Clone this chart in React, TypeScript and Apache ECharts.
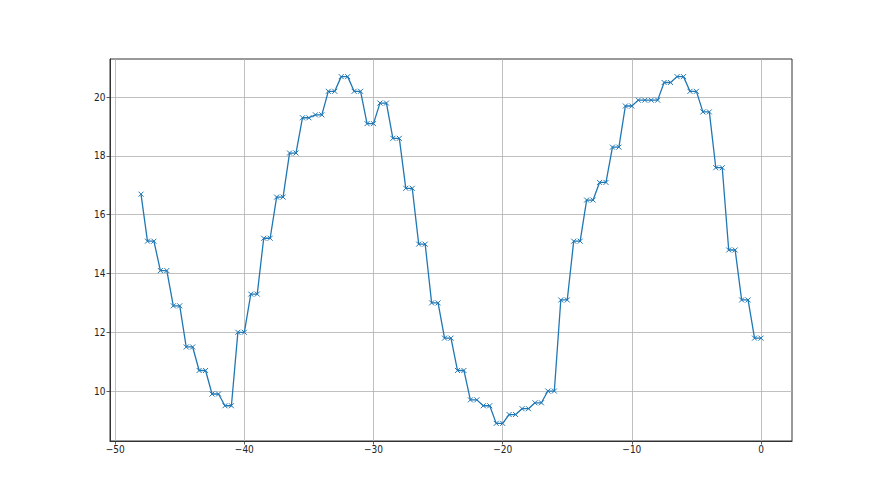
import React, { useEffect, useRef } from "react";
import * as echarts from "echarts";

const xValues = [
  -48, -47.5, -47, -46.5, -46, -45.5, -45, -44.5, -44, -43.5, -43, -42.5, -42,
  -41.5, -41, -40.5, -40, -39.5, -39, -38.5, -38, -37.5, -37, -36.5, -36,
  -35.5, -35, -34.5, -34, -33.5, -33, -32.5, -32, -31.5, -31, -30.5, -30,
  -29.5, -29, -28.5, -28, -27.5, -27, -26.5, -26, -25.5, -25, -24.5, -24,
  -23.5, -23, -22.5, -22, -21.5, -21, -20.5, -20, -19.5, -19, -18.5, -18,
  -17.5, -17, -16.5, -16, -15.5, -15, -14.5, -14, -13.5, -13, -12.5, -12,
  -11.5, -11, -10.5, -10, -9.5, -9, -8.5, -8, -7.5, -7, -6.5, -6, -5.5, -5,
  -4.5, -4, -3.5, -3, -2.5, -2, -1.5, -1, -0.5, 0,
];

const yValues = [
  16.7, 15.1, 15.1, 14.1, 14.1, 12.9, 12.9, 11.5, 11.5, 10.7, 10.7, 9.9, 9.9,
  9.5, 9.5, 12.0, 12.0, 13.3, 13.3, 15.2, 15.2, 16.6, 16.6, 18.1, 18.1,
  19.3, 19.3, 19.4, 19.4, 20.2, 20.2, 20.7, 20.7, 20.2, 20.2, 19.1, 19.1,
  19.8, 19.8, 18.6, 18.6, 16.9, 16.9, 15.0, 15.0, 13.0, 13.0, 11.8, 11.8,
  10.7, 10.7, 9.7, 9.7, 9.5, 9.5, 8.9, 8.9, 9.2, 9.2, 9.4, 9.4,
  9.6, 9.6, 10.0, 10.0, 13.1, 13.1, 15.1, 15.1, 16.5, 16.5, 17.1, 17.1,
  18.3, 18.3, 19.7, 19.7, 19.9, 19.9, 19.9, 19.9, 20.5, 20.5, 20.7, 20.7, 20.2, 20.2,
  19.5, 19.5, 17.6, 17.6, 14.8, 14.8, 13.1, 13.1, 11.8, 11.8,
];

const xTicks = [-50, -40, -30, -20, -10, 0];
const yTicks = [10, 12, 14, 16, 18, 20];

export default function App() {
  const ref = useRef<HTMLDivElement>(null);
  useEffect(() => {
    if (!ref.current) return;
    const chart = echarts.init(ref.current, null, { renderer: "svg" });
    const font = "'DejaVu Sans Condensed', 'DejaVu Sans', sans-serif";
    chart.setOption({
      animation: false,
      backgroundColor: "#ffffff",
      grid: {
        left: 110,
        right: 88,
        top: 59,
        bottom: 54,
        show: true,
        borderColor: "#333333",
        borderWidth: 1,
        containLabel: false,
      },
      xAxis: {
        type: "value",
        min: -50.4,
        max: 2.4,
        axisLine: { show: true, onZero: false, lineStyle: { color: "#333333", width: 1 } },
        axisTick: {
          show: true,
          inside: false,
          length: 3.5,
          customValues: xTicks,
          lineStyle: { color: "#333333", width: 0.8 },
        },
        axisLabel: {
          customValues: xTicks,
          margin: 3,
          color: "#222222",
          fontFamily: font,
          fontSize: 10,
          formatter: (v: number) => (v < 0 ? "\u2212" + Math.abs(v) : String(v)),
        },
        splitLine: { show: true, lineStyle: { color: "#b0b0b0", width: 0.8 } },
      },
      yAxis: {
        type: "value",
        min: 8.3,
        max: 21.3,
        axisLine: { show: true, onZero: false, lineStyle: { color: "#333333", width: 1 } },
        axisTick: {
          show: true,
          inside: false,
          length: 3.5,
          customValues: yTicks,
          lineStyle: { color: "#333333", width: 0.8 },
        },
        axisLabel: {
          customValues: yTicks,
          margin: 4.5,
          color: "#222222",
          fontFamily: font,
          fontSize: 10,
        },
        splitLine: { show: true, lineStyle: { color: "#b0b0b0", width: 0.8 } },
      },
      series: [
        {
          type: "line",
          data: xValues.map((x, i) => [x, yValues[i]]),
          symbol: "path://M0,0L10,10M10,0L0,10",
          symbolSize: 5,
          showSymbol: true,
          showAllSymbol: true,
          lineStyle: { color: "#1f77b4", width: 1.3 },
          itemStyle: { color: "#1f77b4", borderColor: "#1f77b4", borderWidth: 1 },
          emphasis: { disabled: true },
        },
      ],
    });
    return () => chart.dispose();
  }, []);
  return (
    <div
      ref={ref}
      style={{ position: "fixed", left: 0, top: 0, width: 880, height: 495 }}
    />
  );
}
